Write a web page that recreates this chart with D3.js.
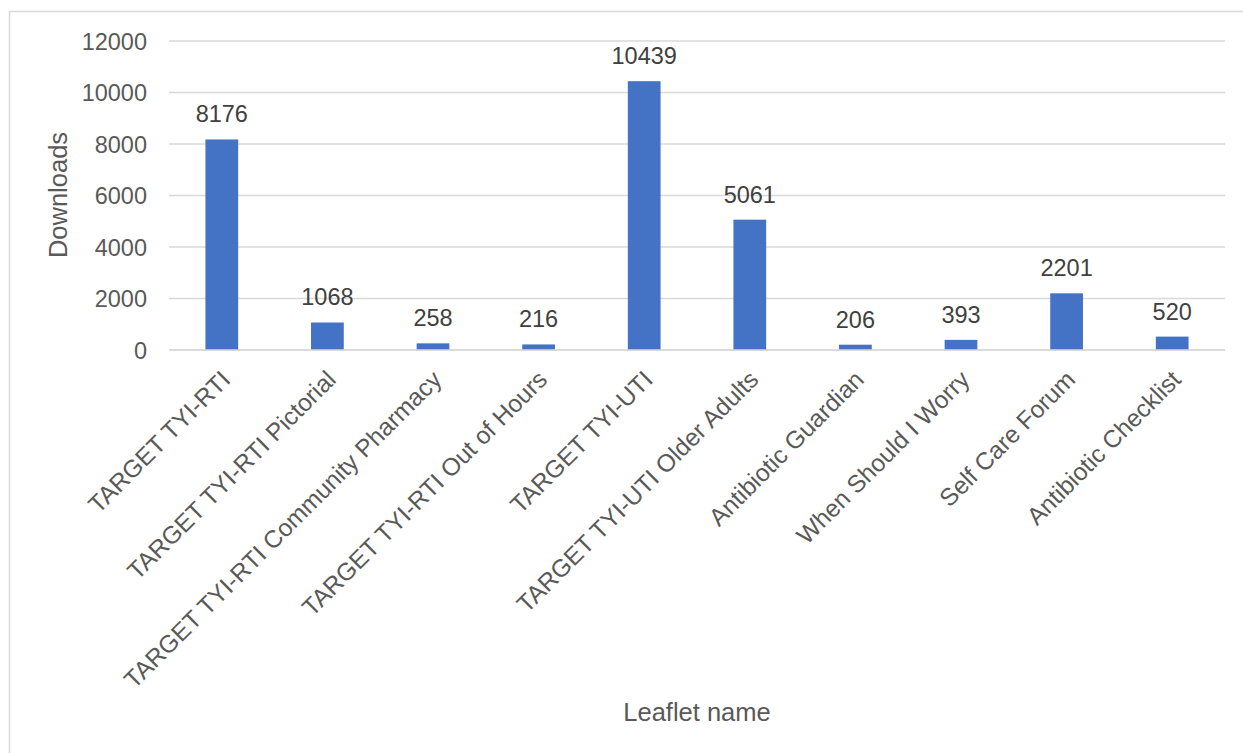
<!DOCTYPE html>
<html><head><meta charset="utf-8">
<script src="https://cdn.jsdelivr.net/npm/d3@7"></script>
<style>body{margin:0;background:#fff;} svg{display:block;}</style>
</head><body>
<svg id="c" width="1243" height="753"></svg>
<script>
const categories = ["TARGET TYI-RTI","TARGET TYI-RTI Pictorial","TARGET TYI-RTI Community Pharmacy","TARGET TYI-RTI Out of Hours","TARGET TYI-UTI","TARGET TYI-UTI Older Adults","Antibiotic Guardian","When Should I Worry","Self Care Forum","Antibiotic Checklist"];
const downloads = [8176,1068,258,216,10439,5061,206,393,2201,520];
const yTicks = [0,2000,4000,6000,8000,10000,12000];
const xTitle = "Leaflet name";
const yTitle = "Downloads";

const svg = d3.select("#c");
const font = "Liberation Sans, Arial, sans-serif";
svg.append("rect").attr("x",9.5).attr("y",11.5).attr("width",1250).attr("height",760)
  .attr("fill","#fff").attr("stroke","#d9d9d9").attr("stroke-width",1.5);

const x = d3.scaleBand().domain(categories).range([169,1225]).paddingInner(0.69).paddingOuter(0.345);
const y = d3.scaleLinear().domain([0,12000]).range([350,41]);

// gridlines
svg.append("g").selectAll("line").data(yTicks).join("line")
  .attr("x1",169).attr("x2",1225).attr("y1",d=>y(d)).attr("y2",d=>y(d))
  .attr("stroke","#d9d9d9").attr("stroke-width",1.5);

// y axis labels
const yAxis = d3.axisLeft(y).tickValues(yTicks).tickSize(0).tickPadding(0).tickFormat(d3.format("d"));
const ya = svg.append("g").attr("transform","translate(147,0)").call(yAxis);
ya.select(".domain").remove();
ya.selectAll("text").attr("font-family",font).attr("font-size",23.5).attr("fill","#595959").attr("dy","0.35em");

// bars
svg.append("g").selectAll("rect").data(downloads).join("rect")
  .attr("x",(d,i)=>x(categories[i])).attr("width",x.bandwidth())
  .attr("y",d=>y(d)).attr("height",d=>y(0)-y(d)).attr("fill","#4472c4");

// data labels
svg.append("g").selectAll("text").data(downloads).join("text")
  .attr("x",(d,i)=>x(categories[i])+x.bandwidth()/2).attr("y",d=>y(d)-17)
  .attr("text-anchor","middle").attr("font-family",font).attr("font-size",23.5).attr("fill","#404040")
  .text(d=>d);

// x axis
const xAxis = d3.axisBottom(x).tickSize(0).tickPadding(0);
const xa = svg.append("g").attr("transform","translate(0,350)").call(xAxis);
xa.select(".domain").attr("stroke","#d9d9d9").attr("stroke-width",1.5).attr("d","M169,0H1225");
xa.selectAll(".tick text").attr("font-family",font).attr("font-size",24.5).attr("fill","#595959")
  .attr("text-anchor","end").attr("dy","0.35em")
  .attr("transform","translate(4,25) rotate(-45)").attr("x",0).attr("y",0);

// titles
svg.append("text").attr("transform","translate(67,195) rotate(-90)").attr("text-anchor","middle")
  .attr("font-family",font).attr("font-size",25.5).attr("fill","#595959").text(yTitle);
svg.append("text").attr("x",697).attr("y",721).attr("text-anchor","middle")
  .attr("font-family",font).attr("font-size",25.5).attr("fill","#595959").text(xTitle);
</script>
</body></html>
